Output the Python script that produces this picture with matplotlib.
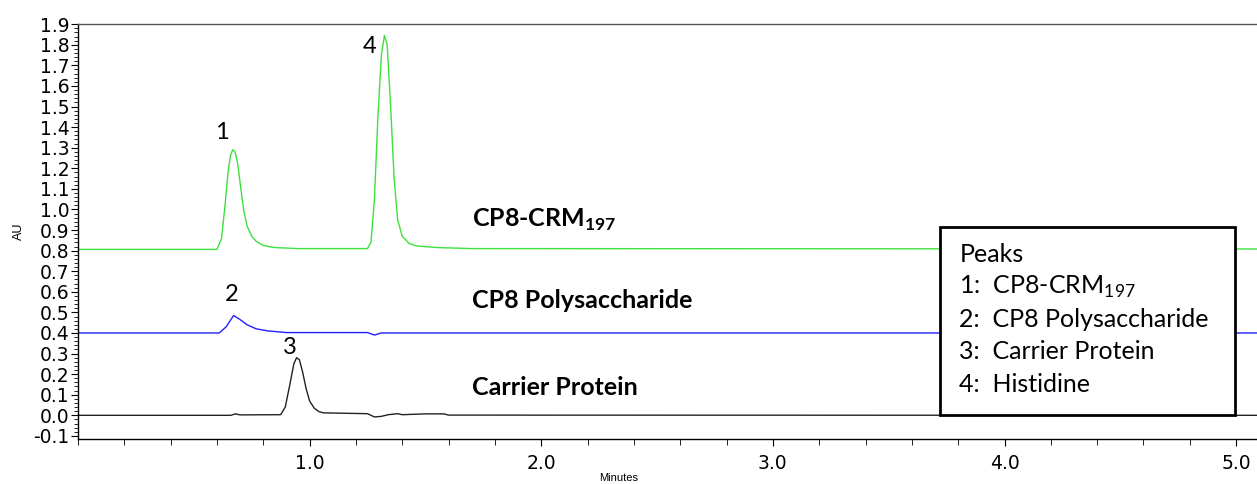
import matplotlib
matplotlib.use("Agg")
from matplotlib import pyplot as plt
from matplotlib.patches import Rectangle
from matplotlib.ticker import MultipleLocator, FixedLocator

# traces (minutes, AU)
green_t = [0.0, 0.60, 0.62, 0.635, 0.648, 0.658, 0.668, 0.678, 0.69, 0.70, 0.715, 0.73, 0.75, 0.77,
           0.80, 0.85, 0.95, 1.25, 1.265, 1.28, 1.295, 1.31, 1.323, 1.335, 1.35, 1.365, 1.38, 1.40,
           1.43, 1.46, 1.55, 1.70, 5.09]
green_au = [0.806, 0.806, 0.86, 1.02, 1.18, 1.26, 1.29, 1.28, 1.22, 1.13, 1.00, 0.92, 0.87, 0.845,
            0.825, 0.815, 0.810, 0.810, 0.84, 1.05, 1.45, 1.75, 1.845, 1.80, 1.50, 1.15, 0.95, 0.87,
            0.835, 0.823, 0.815, 0.810, 0.808]

blue_t = [0.0, 0.61, 0.64, 0.672, 0.70, 0.73, 0.77, 0.82, 0.90, 1.25, 1.28, 1.31, 5.09]
blue_au = [0.40, 0.40, 0.43, 0.485, 0.465, 0.44, 0.42, 0.41, 0.402, 0.402, 0.39, 0.40, 0.40]

black_t = [0.0, 0.66, 0.68, 0.70, 0.875, 0.895, 0.915, 0.932, 0.944, 0.956, 0.97, 0.985, 1.00, 1.02,
           1.04, 1.06, 1.15, 1.25, 1.28, 1.31, 1.34, 1.38, 1.40, 1.45, 1.50, 1.58, 1.60, 5.09]
black_au = [0.0, 0.0, 0.007, 0.002, 0.003, 0.04, 0.15, 0.25, 0.28, 0.27, 0.21, 0.13, 0.07, 0.035,
            0.018, 0.012, 0.01, 0.008, -0.008, -0.005, 0.003, 0.008, 0.003, 0.005, 0.007, 0.007,
            0.001, 0.0]

peak_nums = ["1", "2", "3", "4"]
peak_t = [0.62, 0.664, 0.914, 1.26]
peak_au = [1.374, 0.587, 0.33, 1.79]

trace_names = [r"CP8-CRM$_{\mathregular{197}}$", "CP8 Polysaccharide", "Carrier Protein"]
trace_name_au = [0.951, 0.558, 0.136]

legend_lines = ["Peaks",
                r"1:  CP8-CRM$_{\mathregular{197}}$",
                "2:  CP8 Polysaccharide",
                "3:  Carrier Protein",
                "4:  Histidine"]

plt.rcParams["mathtext.fontset"] = "custom"
plt.rcParams["mathtext.rm"] = "Lato"
plt.rcParams["mathtext.bf"] = "Lato:bold"

fig = plt.figure(figsize=(12.57, 4.84), dpi=100)
ax = fig.add_axes([0.062, 0.093, 0.938, 0.857])

ax.plot(black_t, black_au, color="#222222", lw=1.0)
ax.plot(blue_t, blue_au, color="#2020ff", lw=1.0)
ax.plot(green_t, green_au, color="#3ee03e", lw=1.0)

for s, t, a in zip(peak_nums, peak_t, peak_au):
    ax.text(t, a, s, fontsize=17, family="Lato", ha="center", va="center")

for s, a in zip(trace_names, trace_name_au):
    ax.text(1.70, a, s, fontsize=18, family="Lato", fontweight="bold", ha="left", va="center")

# peaks key box
ax.add_patch(Rectangle((3.72, 0.0), 1.275, 0.913, facecolor="white", edgecolor="black",
                       lw=2, zorder=5))
for i, s in enumerate(legend_lines):
    ax.text(3.805, 0.78 - i * 0.157, s, fontsize=18, family="Lato", ha="left", va="center",
            zorder=6)

ax.set_xlim(0, 5.09)
ax.set_ylim(-0.115, 1.9)
ax.xaxis.set_major_locator(FixedLocator([1, 2, 3, 4, 5]))
ax.xaxis.set_minor_locator(MultipleLocator(0.2))
ax.yaxis.set_major_locator(MultipleLocator(0.1))
ax.yaxis.set_minor_locator(MultipleLocator(0.02))
ax.xaxis.set_major_formatter(plt.FuncFormatter(lambda v, p: f"{v:.1f}"))
ax.yaxis.set_major_formatter(plt.FuncFormatter(lambda v, p: f"{v:.1f}"))

for lab in ax.get_xticklabels() + ax.get_yticklabels():
    lab.set_family("DejaVu Sans")
    lab.set_fontsize(13.5)
ax.tick_params(axis="y", which="major", length=5, pad=1, width=0.8)
ax.tick_params(axis="y", which="minor", length=3, width=0.6)
ax.tick_params(axis="x", which="major", length=5, pad=6, width=0.8)
ax.tick_params(axis="x", which="minor", length=4, width=0.6)

ax.spines["right"].set_visible(False)
ax.spines["top"].set_color("#555555")
for side in ["left", "bottom", "top"]:
    ax.spines[side].set_linewidth(1.0)

fig.text(0.492, 0.002, "Minutes", fontsize=8, family="Liberation Sans", ha="center", va="bottom")
ax.set_ylabel("AU", fontsize=9, family="Liberation Sans", labelpad=6)

fig.savefig("out.png", dpi=100)
